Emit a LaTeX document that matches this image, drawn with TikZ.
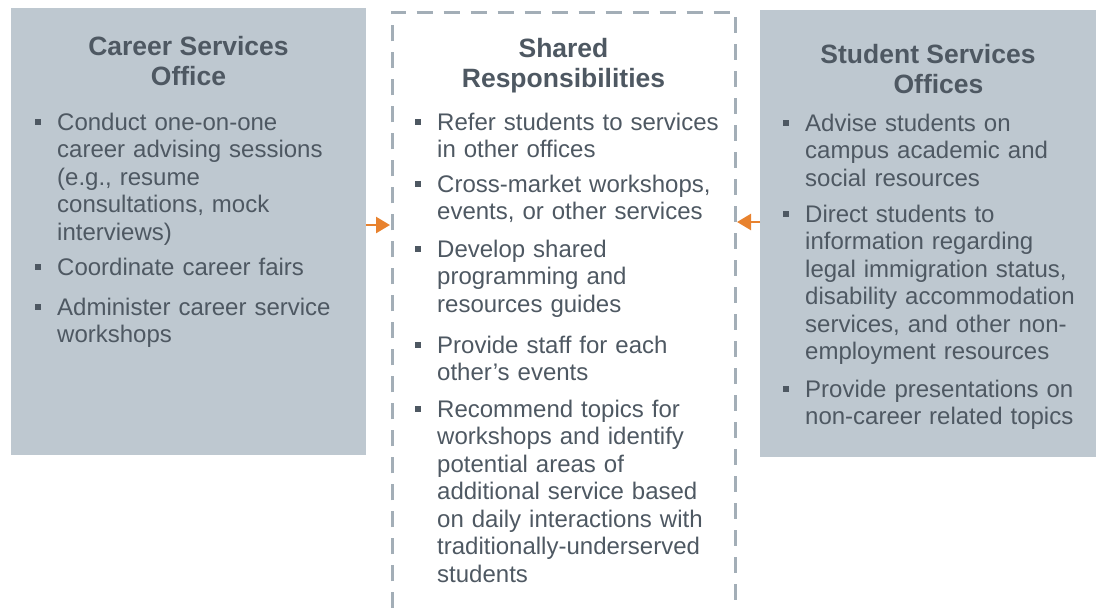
\documentclass[tikz,border=0pt]{standalone}
\usepackage{fontspec}
\setmainfont{Liberation Sans}
\usetikzlibrary{arrows.meta}

\definecolor{boxfill}{HTML}{BEC8D0}
\definecolor{ink}{HTML}{4E5862}
\definecolor{dashgrey}{HTML}{A3AEB7}
\definecolor{accent}{HTML}{E8822E}

% square bullet hung to the left of an item's first line
\newcommand{\bul}{\llap{\rule[5pt]{6.5pt}{6.5pt}\hspace{16pt}}}
% fixed first-line heights, so that a node's top sits a known distance above its first baseline
\newcommand{\itemstrut}{\rule{0pt}{18pt}}
\newcommand{\headstrut}{\rule{0pt}{20pt}}

\begin{document}
\begin{tikzpicture}[x=1pt,y=-1pt,
  panel/.style={fill=boxfill, draw=none, inner sep=0, anchor=north west},
  heading/.style={font=\fontsize{26.5}{30}\selectfont\bfseries, text=ink,
                  align=center, anchor=north, inner sep=0},
  entry/.style={font=\fontsize{24}{27.5}\selectfont, text=ink, text width=300pt,
                align=left, anchor=north west, inner sep=0},
  link/.style={draw=accent, line width=2.5pt, -{Triangle[length=14pt,width=16pt]}},
  frame/.style={draw=dashgrey, line width=3pt, dash pattern=on 16pt off 11pt}]

\useasboundingbox (0,0) rectangle (1101,608);

% the three columns
\node[panel, minimum width=355pt, minimum height=447pt] (cso) at (11,8) {};
\node[panel, minimum width=336pt, minimum height=447pt] (sso) at (760,10) {};
\node[panel, fill=none, minimum width=343pt, minimum height=596pt] (shared) at (392,12) {};
\draw[frame] (shared.south west) -- (shared.north west) -- (shared.north east) -- (shared.south east);

% column headings
\node[heading] (csoHead) at (188.5,35) {\headstrut Career Services\\Office};
\node[heading] (sharedHead) at (563.5,37) {\headstrut Shared\\Responsibilities};
\node[heading] (ssoHead) at (928,43) {\headstrut Student Services\\\hspace*{21pt}Offices};

% Career Services Office
\node[entry] (c1) at (57,112) {\itemstrut\bul Conduct one-on-one\\career advising sessions\\(e.g., resume\\consultations, mock\\interviews)};
\node[entry] (c2) at (57,257) {\itemstrut\bul Coordinate career fairs};
\node[entry] (c3) at (57,297) {\itemstrut\bul Administer career service\\workshops};

% Shared Responsibilities
\node[entry] (s1) at (437,112) {\itemstrut\bul Refer students to services\\in other offices};
\node[entry] (s2) at (437,174) {\itemstrut\bul Cross-market workshops,\\events, or other services};
\node[entry] (s3) at (437,239) {\itemstrut\bul Develop shared\\programming and\\resources guides};
\node[entry] (s4) at (437,335) {\itemstrut\bul Provide staff for each\\other’s events};
\node[entry] (s5) at (437,399) {\itemstrut\bul Recommend topics for\\workshops and identify\\potential areas of\\additional service based\\on daily interactions with\\traditionally-underserved\\students};

% Student Services Offices
\node[entry] (o1) at (805,113) {\itemstrut\bul Advise students on\\campus academic and\\social resources};
\node[entry] (o2) at (805,204) {\itemstrut\bul Direct students to\\information regarding\\legal immigration status,\\disability accommodation\\services, and other non-\\employment resources};
\node[entry] (o3) at (805,379) {\itemstrut\bul Provide presentations on\\non-career related topics};

% arrows into the shared column
\coordinate (leftTip) at (390,225);
\coordinate (rightTip) at (737,222);
\draw[link] (cso.east |- leftTip) -- (leftTip);
\draw[link] (sso.west |- rightTip) -- (rightTip);
\end{tikzpicture}
\end{document}
